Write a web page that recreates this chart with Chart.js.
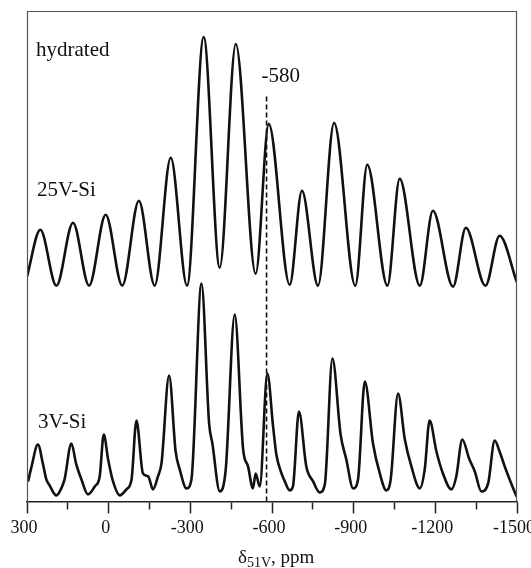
<!DOCTYPE html>
<html lang="en">
<head>
    <meta charset="UTF-8">
    <title>51V MAS NMR</title>
    <script src="https://cdn.jsdelivr.net/npm/chart.js@4.4.1/dist/chart.umd.min.js"></script>
    <style>
        html, body { margin: 0; padding: 0; background: #fff; }
    </style>
</head>
<body>
<canvas id="myChart" width="531" height="568"></canvas>

<script>
    // chemical shift (ppm) and intensity (a.u., stacked)
    var ppm25V = [300, 251, 192, 131, 72, 11, -50, -111, -169, -228, -288, -349, -408, -467, -540, -588,
        -665, -710, -769, -828, -906, -950, -1024, -1069, -1143, -1191, -1265, -1312, -1384, -1436, -1500];
    var int25V = [225, 272, 216, 279, 216, 287, 216, 301, 216, 344, 216, 465, 234, 458, 228, 378,
        217, 311, 216, 379, 216, 337, 216, 323, 216, 291, 215, 274, 216, 266, 219];

    var ppm3V = [296, 284, 260, 241, 229, 217, 192, 174, 162, 137, 119, 100, 76, 51, 33, 18, 2, -16, -41, -65,
        -84, -102, -126, -145, -163, -181, -194, -222, -246, -261, -286, -304, -341, -369, -381, -408, -430,
        -463, -494, -512, -530, -540, -555, -583, -604, -616, -635, -647, -665, -677, -699, -726, -751, -775,
        -794, -822, -852, -873, -898, -916, -941, -971, -996, -1020, -1036, -1063, -1088, -1112, -1143, -1161,
        -1179, -1204, -1228, -1259, -1277, -1299, -1324, -1345, -1369, -1394, -1418, -1436, -1455, -1473, -1498];
    var int3V = [20, 34, 57, 37, 22, 16, 6, 13, 22, 58, 37, 22, 7, 15, 25, 67, 42, 20, 6, 12,
        22, 81, 28, 25, 12, 25, 38, 126, 50, 32, 13, 22, 218, 78, 58, 10, 32,
        187, 52, 35, 13, 28, 15, 128, 75, 47, 28, 20, 11, 15, 90, 35, 20, 9,
        17, 143, 67, 42, 13, 22, 120, 58, 28, 11, 22, 108, 62, 35, 13, 32,
        81, 50, 28, 12, 25, 62, 43, 30, 10, 18, 61, 50, 35, 22, 5];

    var markerPpm = -580;
    var markerTop = 406;
    var sampleNames = ['hydrated', '25V-Si', '3V-Si'];
    var xMin = -1500, xMax = 300, minorStep = 150, majorStep = 300;

    (function () {
        var ctx = document.getElementById('myChart').getContext('2d');
        var serif = '"Liberation Serif", "Times New Roman", serif';

        function toPoints(xs, ys) {
            var pts = [];
            for (var i = 0; i < xs.length; i++) pts.push({x: xs[i], y: ys[i]});
            return pts;
        }

        var decor = {
            id: 'decor',
            afterDraw: function (chart) {
                var c = chart.ctx, a = chart.chartArea, xs = chart.scales.x;
                c.save();
                // frame
                c.strokeStyle = '#555';
                c.lineWidth = 1.2;
                c.beginPath();
                c.moveTo(a.left + 0.5, a.bottom);
                c.lineTo(a.left + 0.5, a.top + 0.5);
                c.lineTo(a.right - 0.5, a.top + 0.5);
                c.lineTo(a.right - 0.5, a.bottom);
                c.stroke();

                // sample labels
                c.fillStyle = '#111';
                c.textAlign = 'left';
                c.textBaseline = 'alphabetic';
                c.font = '21px ' + serif;
                c.fillText(sampleNames[0], 36, 56);
                c.fillText(sampleNames[1], 37, 196);
                c.fillText(sampleNames[2], 38, 428);
                c.fillText(String(markerPpm), xs.getPixelForValue(markerPpm) - 5, 82);

                // axis title: delta with subscript 51V
                var tx = 238, ty = 563;
                c.font = '19px ' + serif;
                c.fillText('\u03B4', tx, ty);
                tx += c.measureText('\u03B4').width;
                c.font = '14px ' + serif;
                c.fillText('51V', tx, ty + 4);
                tx += c.measureText('51V').width;
                c.font = '19px ' + serif;
                c.fillText(', ppm', tx, ty);
                c.restore();
            }
        };

        new Chart(ctx, {
            type: 'line',
            data: {
                datasets: [
                    {
                        label: '25V-Si',
                        data: toPoints(ppm25V, int25V),
                        borderColor: '#111',
                        borderWidth: 2.6,
                        pointRadius: 0,
                        cubicInterpolationMode: 'monotone'
                    },
                    {
                        label: '3V-Si',
                        data: toPoints(ppm3V, int3V),
                        borderColor: '#111',
                        borderWidth: 2.6,
                        pointRadius: 0,
                        cubicInterpolationMode: 'monotone'
                    },
                    {
                        label: 'marker',
                        data: [{x: markerPpm, y: 0}, {x: markerPpm, y: markerTop}],
                        borderColor: '#111',
                        borderWidth: 1.6,
                        borderDash: [5, 3],
                        pointRadius: 0
                    }
                ]
            },
            options: {
                responsive: false,
                animation: false,
                layout: {padding: {left: 27, right: 14, top: 11, bottom: 25}},
                plugins: {legend: {display: false}, tooltip: {enabled: false}},
                scales: {
                    x: {
                        type: 'linear',
                        reverse: true,
                        min: xMin,
                        max: xMax,
                        border: {color: '#222', width: 1.5},
                        grid: {
                            drawOnChartArea: false,
                            tickLength: 12,
                            tickColor: '#222',
                            tickWidth: 1.5,
                            tickBorderDash: function (c) {
                                return c.tick && c.tick.value % majorStep !== 0 ? [7, 40] : [];
                            }
                        },
                        ticks: {
                            stepSize: minorStep,
                            autoSkip: false,
                            maxRotation: 0,
                            padding: 4,
                            labelOffset: -3,
                            color: '#111',
                            font: {family: serif, size: 18},
                            callback: function (v) {
                                return v % majorStep === 0 ? String(v) : '';
                            }
                        },
                        afterFit: function (scale) {
                            scale.paddingLeft = 0;
                            scale.paddingRight = 0;
                        }
                    },
                    y: {
                        display: false,
                        min: 0,
                        max: 491
                    }
                }
            },
            plugins: [decor]
        });
    })();
</script>
</body>
</html>
